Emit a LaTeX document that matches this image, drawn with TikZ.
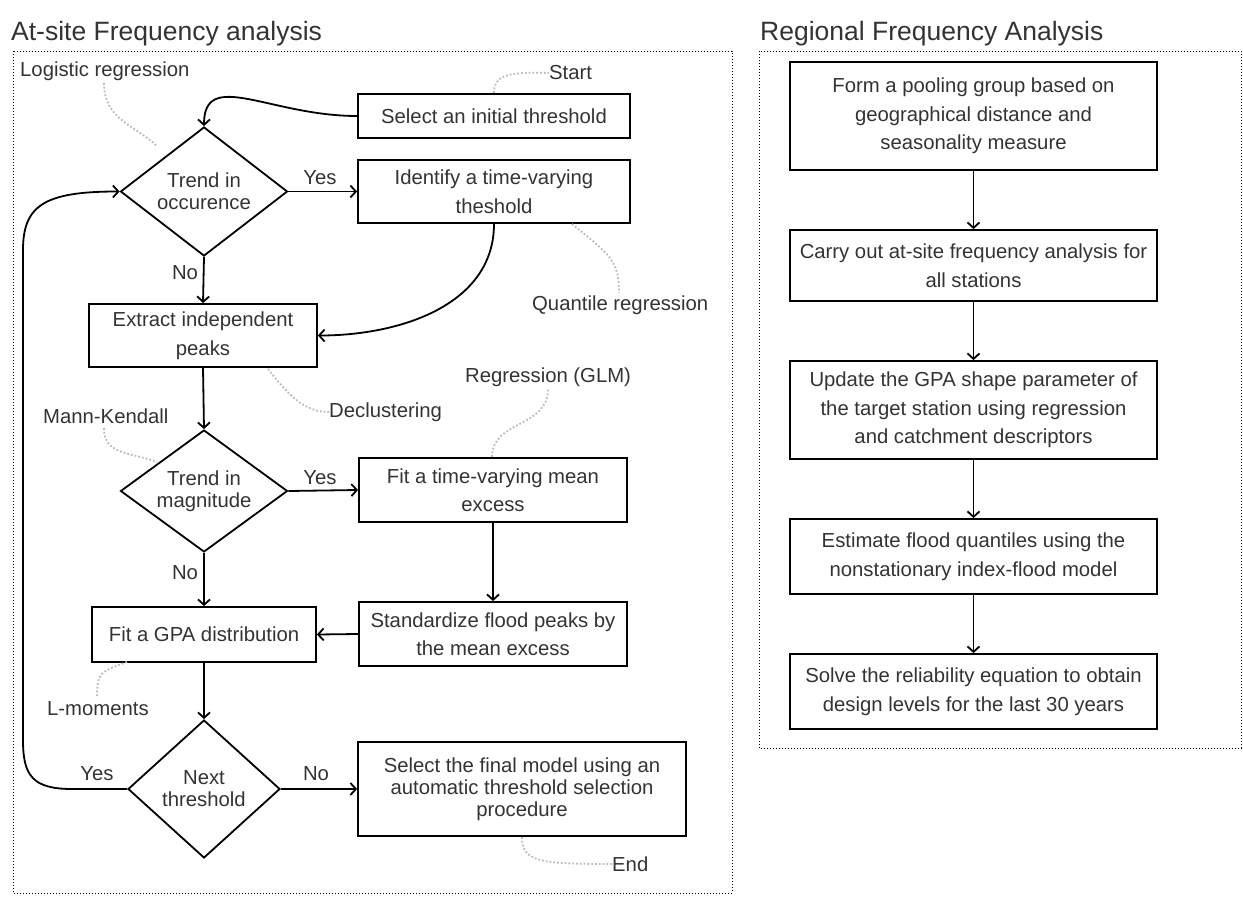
\documentclass[tikz,border=0pt]{standalone}
\usepackage{fontspec}
\setmainfont{Liberation Sans}
\usetikzlibrary{shapes.geometric,arrows.meta}
\definecolor{txt}{HTML}{333333}
\definecolor{anno}{HTML}{BBBBBB}
\tikzset{
  box/.style={draw=black,line width=1.8pt,rectangle,inner sep=0pt,align=center,text=txt,font=\fontsize{20.3}{28.5}\selectfont},
  dia/.style={draw=black,line width=1.8pt,diamond,inner sep=0pt},
  diatext/.style={inner sep=0pt,align=center,text=txt,font=\fontsize{20.3}{22}\selectfont},
  conn/.style={line width=1.8pt,-{Straight Barb[length=5.5pt,width=12pt,line width=1.8pt]}},
  lbl/.style={text=txt,font=\fontsize{20.3}{22}\selectfont,inner sep=0pt},
  note/.style={text=txt,font=\fontsize{20.3}{22}\selectfont,inner sep=0pt},
  noteline/.style={draw=anno,line width=1.8pt,dotted},
  frame/.style={draw=black,line width=1pt,dotted},
  ttl/.style={text=txt,font=\fontsize{26.5}{30}\selectfont,inner sep=0pt,anchor=base west}
}
\begin{document}
\begin{tikzpicture}[x=1pt,y=-1pt]
\useasboundingbox (0,0) rectangle (1243,910);
% frames and titles
\draw[frame] (13,51) rectangle (732,893);
\draw[frame] (759,51) rectangle (1241,748);
\node[ttl] (t1) at (11,40) {At-site Frequency analysis};
\node[ttl] (t2) at (760,40) {Regional Frequency Analysis};

% left flow
\node[box,minimum width=272,minimum height=44] (sel) at (494,116) {Select an initial threshold};
\node[box,minimum width=272,minimum height=63] (ident) at (494,191.5) {Identify a time-varying\\theshold};
\node[dia,minimum width=167,minimum height=129] (d1) at (204,191.5) {};
\node[diatext] (d1t) at (d1.center) {Trend in\\occurence};
\node[box,minimum width=228,minimum height=63] (ext) at (203,335.5) {Extract independent\\peaks};
\node[dia,minimum width=167,minimum height=122] (d2) at (204,491) {};
\node[diatext] (d2t) at (d2.center) {Trend in\\magnitude};
\node[box,minimum width=268,minimum height=64] (fitm) at (493,490) {Fit a time-varying mean\\excess};
\node[box,minimum width=268,minimum height=64] (std) at (493,634) {Standardize flood peaks by\\the mean excess};
\node[box,minimum width=224,minimum height=55] (gpa) at (204,634.5) {Fit a GPA distribution};
\node[dia,minimum width=152,minimum height=138] (d3) at (204,789) {};
\node[diatext] (d3t) at (d3.center) {Next\\threshold};
\node[box,minimum width=328,minimum height=94,font=\fontsize{20.3}{22}\selectfont] (fin) at (522,789) {Select the final model using an\\automatic threshold selection\\procedure};

% connectors
\draw[conn] (sel.west) .. controls (270,116) and (204,68) .. (d1.north);
\draw[conn] (d1.east) -- (ident.west);
\draw[conn] (ident.south) .. controls (494,305) and (400,335.5) .. (ext.east);
\draw[conn] (d1.south) -- (ext.north);
\draw[conn] (ext.south) -- (d2.north);
\draw[conn] (d2.east) -- (fitm.west);
\draw[conn] (fitm.south) -- (std.north);
\draw[conn] (std.west) -- (gpa.east);
\draw[conn] (d2.south) -- (gpa.north);
\draw[conn] (gpa.south) -- (d3.north);
\draw[conn] (d3.east) -- (fin.west);
\draw[conn] (d3.west) -- (72,789) .. controls (32,789) and (23,775) .. (23,740) -- (23,250) .. controls (23,205) and (45,191.5) .. (d1.west);

% edge labels
\node[lbl] (y1) at (320,178) {Yes};
\node[lbl] (n1) at (185,273) {No};
\node[lbl] (y2) at (320,478) {Yes};
\node[lbl] (n2) at (185,573) {No};
\node[lbl] (y3) at (97,774) {Yes};
\node[lbl] (n3) at (316,774) {No};

% annotations
\node[note,anchor=west] (logi) at (20,71) {Logistic regression};
\draw[noteline] (104,83) .. controls (104,120) and (135,125) .. (157,146);
\node[note,anchor=west] (start) at (549,73) {Start};
\draw[noteline] (494,93) .. controls (494,74) and (510,72) .. (start.west);
\node[note,anchor=west] (quant) at (532,305) {Quantile regression};
\draw[noteline] (572,224) .. controls (610,255) and (619,260) .. (619,293);
\node[note,anchor=west] (decl) at (329,412) {Declustering};
\draw[noteline] (268,369) .. controls (290,397) and (305,412) .. (decl.west);
\node[note,anchor=west] (mk) at (43,416) {Mann-Kendall};
\draw[noteline] (104,428) .. controls (104,455) and (130,452) .. (157,462);
\node[note,anchor=west] (glm) at (465,377) {Regression (GLM)};
\draw[noteline] (492,457) .. controls (492,420) and (548,428) .. (548,389);
\node[note,anchor=west] (lmom) at (47,709) {L-moments};
\draw[noteline] (127,662) .. controls (100,672) and (97,672) .. (97,698);
\node[note,anchor=west] (endn) at (612,864) {End};
\draw[noteline] (522,837) .. controls (522,862) and (540,864) .. (endn.west);

% right flow
\node[box,minimum width=367,minimum height=108] (r1) at (973.5,116) {Form a pooling group based on\\geographical distance and\\seasonality measure};
\node[box,minimum width=367,minimum height=71] (r2) at (973.5,265.5) {Carry out at-site frequency analysis for\\all stations};
\node[box,minimum width=367,minimum height=98] (r3) at (973.5,410) {Update the GPA shape parameter of\\the target station using regression\\and catchment descriptors};
\node[box,minimum width=367,minimum height=75] (r4) at (973.5,556.5) {Estimate flood quantiles using the\\nonstationary index-flood model};
\node[box,minimum width=367,minimum height=75] (r5) at (973.5,691.5) {Solve the reliability equation to obtain\\design levels for the last 30 years};
\draw[conn] (r1.south) -- (r2.north);
\draw[conn] (r2.south) -- (r3.north);
\draw[conn] (r3.south) -- (r4.north);
\draw[conn] (r4.south) -- (r5.north);
\end{tikzpicture}
\end{document}
